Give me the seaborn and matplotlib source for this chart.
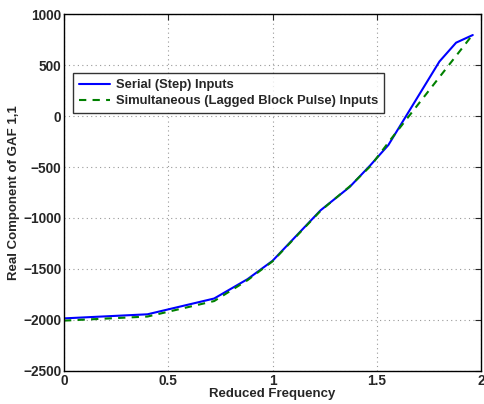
"""
GAF 1,1 实部 vs 折减频率
"""
import pandas as pd
import matplotlib
matplotlib.use('Agg')
import matplotlib.pyplot as plt
import seaborn as sns

sns.set_style('white')
plt.rcParams['font.family'] = ['Liberation Sans', 'DejaVu Sans']
plt.rcParams['font.weight'] = 'bold'
plt.rcParams['axes.labelweight'] = 'bold'

# 数据
serial_k = [0.0, 0.4, 0.72, 0.88, 1.0, 1.23, 1.37, 1.47, 1.555, 1.8, 1.88, 1.96]
serial_val = [-1985, -1945, -1790, -1600, -1420, -925, -695, -480, -285, 535, 720, 795]

simul_k = [0.0, 0.4, 0.72, 0.88, 1.0, 1.23, 1.37, 1.47, 1.57, 1.96]
simul_val = [-2007, -1967, -1815, -1610, -1425, -930, -690, -490, -220, 800]

labels = ['Serial (Step) Inputs', 'Simultaneous (Lagged Block Pulse) Inputs']
x_ticks = [0, 0.5, 1, 1.5, 2]
y_ticks = [-2500, -2000, -1500, -1000, -500, 0, 500, 1000]

df = pd.concat([
    pd.DataFrame({'k': serial_k, 'val': serial_val, 'series': labels[0]}),
    pd.DataFrame({'k': simul_k, 'val': simul_val, 'series': labels[1]}),
])

fig = plt.figure(figsize=(4.85, 4.04), dpi=100)
ax = fig.add_axes([0.132, 0.082, 0.860, 0.883])

sns.lineplot(data=df[df['series'] == labels[0]], x='k', y='val', ax=ax,
             color='#0000ff', linewidth=1.5, label=labels[0], sort=False)
sns.lineplot(data=df[df['series'] == labels[1]], x='k', y='val', ax=ax,
             color='#008000', linewidth=1.5, linestyle=(0, (3.5, 3)),
             label=labels[1], sort=False)

ax.set_xlim(0, 2)
ax.set_ylim(-2500, 1000)
ax.set_xticks(x_ticks)
ax.set_xticklabels(['0', '0.5', '1', '1.5', '2'])
ax.set_yticks(y_ticks)
ax.set_yticklabels([str(v).replace('-', '\u2212') for v in y_ticks])
ax.tick_params(direction='in', length=4, width=0.8, labelsize=9.8,
               top=True, right=True, pad=2)
for lbl in ax.get_xticklabels() + ax.get_yticklabels():
    lbl.set_fontweight('bold')

ax.grid(True, linestyle=(0, (1, 3)), color='#999999', linewidth=0.8)
for s in ax.spines.values():
    s.set_color('black')
    s.set_linewidth(1.0)

ax.set_xlabel('Reduced Frequency', fontsize=9.5, fontweight='bold', labelpad=0)
ax.set_ylabel('Real Component of GAF 1,1', fontsize=9.5, fontweight='bold', labelpad=2)

leg = ax.legend(loc='upper left', bbox_to_anchor=(0.022, 0.834), fontsize=9.4,
                frameon=True, fancybox=False, borderpad=0.45, labelspacing=0.3,
                handlelength=2.4, handletextpad=0.4, borderaxespad=0)
leg.get_frame().set_edgecolor('black')
leg.get_frame().set_linewidth(1.0)
for t in leg.get_texts():
    t.set_fontweight('bold')

plt.savefig('out.png', dpi=100)
